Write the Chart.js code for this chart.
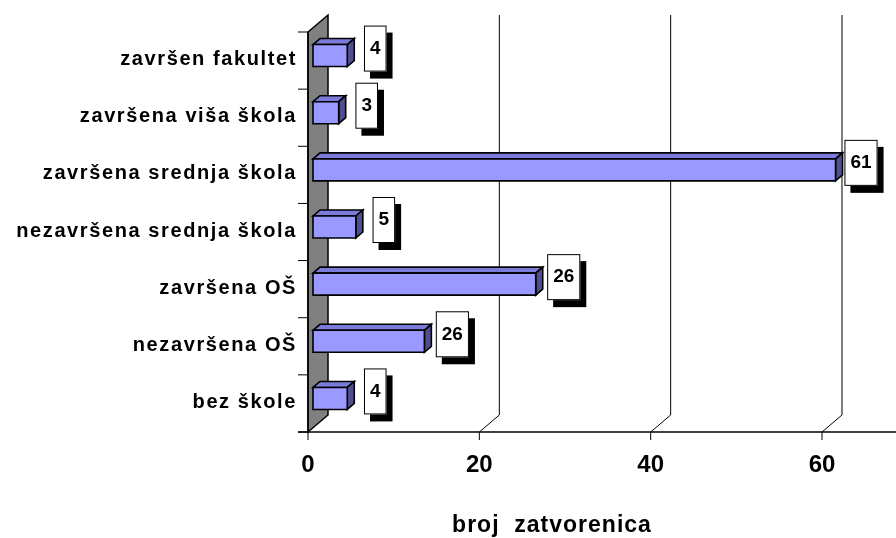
<!DOCTYPE html>
<html>
<head>
<meta charset="utf-8">
<script src="https://cdn.jsdelivr.net/npm/chart.js@4.4.1/dist/chart.umd.min.js"></script>
<style>
  html, body { margin: 0; padding: 0; background: #ffffff; }
  #c { display: block; }
</style>
</head>
<body>
<canvas id="c" width="896" height="538"></canvas>
<script>
// ---- data ----
const categories = ['završen fakultet', 'završena viša škola', 'završena srednja škola',
  'nezavršena srednja škola', 'završena OŠ', 'nezavršena OŠ', 'bez škole'];
const values = [4, 3, 61, 5, 26, 13, 4];
const valueLabels = ['4', '3', '61', '5', '26', '26', '4'];
const xTicks = [0, 20, 40, 60];
const axisTitle = 'broj  zatvorenica';

// ---- style ----
const WALL = { dx: 20, dy: -17 };
const BAR_FRONT = { dx: 5, dy: -5 };
const BAR_DEPTH = { dx: 7, dy: -6 };
const FONT = '"Liberation Sans", Arial, sans-serif';

const plot3d = {
  id: 'plot3d',
  afterDraw(chart) {
    const ctx = chart.ctx;
    const xs = chart.scales.x, ys = chart.scales.y;
    const area = chart.chartArea;
    const x0 = xs.getPixelForValue(0);
    const top = area.top, bottom = area.bottom;
    ctx.save();
    ctx.lineJoin = 'miter';

    // gray wall
    ctx.beginPath();
    ctx.moveTo(x0, top);
    ctx.lineTo(x0 + WALL.dx, top + WALL.dy);
    ctx.lineTo(x0 + WALL.dx, bottom + WALL.dy);
    ctx.lineTo(x0, bottom);
    ctx.closePath();
    ctx.fillStyle = '#808080';
    ctx.fill();
    ctx.lineWidth = 1.5;
    ctx.strokeStyle = '#000';
    ctx.stroke();

    // gridlines on floor + back wall
    ctx.lineWidth = 1;
    xTicks.forEach(v => {
      if (v === 0) return;
      const px = xs.getPixelForValue(v);
      ctx.beginPath();
      ctx.moveTo(px, bottom);
      ctx.lineTo(px + WALL.dx, bottom + WALL.dy);
      ctx.lineTo(px + WALL.dx, top + WALL.dy);
      ctx.stroke();
    });

    // axes
    ctx.lineWidth = 1.5;
    ctx.beginPath();
    ctx.moveTo(x0 - 10, bottom);
    ctx.lineTo(chart.width, bottom);
    ctx.moveTo(x0, top);
    ctx.lineTo(x0, bottom);
    ctx.stroke();
    ctx.lineWidth = 1;
    const band = (bottom - top) / categories.length;
    for (let i = 0; i <= categories.length; i++) {
      const yy = top + i * band;
      ctx.beginPath();
      ctx.moveTo(x0 - 10, yy);
      ctx.lineTo(x0, yy);
      ctx.stroke();
    }
    xTicks.forEach(v => {
      const px = xs.getPixelForValue(v);
      ctx.beginPath();
      ctx.moveTo(px, bottom);
      ctx.lineTo(px, bottom + 8);
      ctx.stroke();
    });

    // tick labels
    ctx.fillStyle = '#000';
    ctx.font = 'bold 24px ' + FONT;
    ctx.textAlign = 'center';
    ctx.textBaseline = 'alphabetic';
    xTicks.forEach(v => {
      ctx.fillText(String(v), xs.getPixelForValue(v), 472);
    });

    // category labels
    ctx.font = 'bold 20px ' + FONT;
    ctx.letterSpacing = '1.6px';
    ctx.textAlign = 'right';
    ctx.textBaseline = 'middle';
    categories.forEach((c, i) => {
      ctx.fillText(c, x0 - 11, ys.getPixelForValue(i) - 1);
    });

    // axis title
    ctx.font = 'bold 23px ' + FONT;
    ctx.letterSpacing = '1px';
    ctx.textAlign = 'center';
    ctx.textBaseline = 'alphabetic';
    ctx.fillText(axisTitle, 552, 532);
    ctx.letterSpacing = '0px';

    // 3D bars
    const meta = chart.getDatasetMeta(0);
    meta.data.forEach((el, i) => {
      const p = el.getProps(['x', 'y', 'base', 'height'], true);
      const L = p.base + BAR_FRONT.dx, R = p.x + BAR_FRONT.dx;
      const T = p.y + BAR_FRONT.dy - p.height / 2, B = p.y + BAR_FRONT.dy + p.height / 2;
      const dx = BAR_DEPTH.dx, dy = BAR_DEPTH.dy;
      ctx.lineWidth = 1.6;
      ctx.strokeStyle = '#000';
      // top face
      ctx.beginPath();
      ctx.moveTo(L, T); ctx.lineTo(L + dx, T + dy); ctx.lineTo(R + dx, T + dy); ctx.lineTo(R, T);
      ctx.closePath();
      ctx.fillStyle = '#7B7BDB';
      ctx.fill(); ctx.stroke();
      // right face
      ctx.beginPath();
      ctx.moveTo(R, T); ctx.lineTo(R + dx, T + dy); ctx.lineTo(R + dx, B + dy); ctx.lineTo(R, B);
      ctx.closePath();
      ctx.fillStyle = '#4F4F8F';
      ctx.fill(); ctx.stroke();
      // front face
      ctx.beginPath();
      ctx.rect(L, T, R - L, B - T);
      ctx.fillStyle = '#9999FF';
      ctx.fill(); ctx.stroke();

      // data label box
      ctx.font = 'bold 19px ' + FONT;
      const txt = valueLabels[i];
      const tw = ctx.measureText(txt).width;
      const bw = tw + 12, bh = 46;
      const cx = Math.min(R + 28, chart.width - 35), cy = (T + B) / 2 - 7;
      const bx = cx - bw / 2, by = cy - bh / 2;
      ctx.fillStyle = '#000';
      ctx.fillRect(bx + 6, by + 7, bw, bh);
      ctx.fillStyle = '#fff';
      ctx.fillRect(bx, by, bw, bh);
      ctx.lineWidth = 1;
      ctx.strokeRect(bx + 0.5, by + 0.5, bw - 1, bh - 1);
      ctx.fillStyle = '#000';
      ctx.textAlign = 'center';
      ctx.textBaseline = 'middle';
      ctx.fillText(txt, cx, cy);
    });
    ctx.restore();
  }
};

new Chart(document.getElementById('c'), {
  type: 'bar',
  data: {
    labels: categories,
    datasets: [{
      data: values,
      backgroundColor: 'rgba(0,0,0,0)',
      borderWidth: 0,
      barThickness: 22
    }]
  },
  options: {
    indexAxis: 'y',
    responsive: false,
    devicePixelRatio: 1,
    animation: false,
    events: [],
    layout: { padding: { left: 308, right: 0, top: 32, bottom: 106 } },
    plugins: { legend: { display: false }, tooltip: { enabled: false }, title: { display: false } },
    scales: {
      x: { type: 'linear', display: false, min: 0, max: 68.64 },
      y: { type: 'category', display: false, offset: true }
    }
  },
  plugins: [plot3d]
});
</script>
</body>
</html>
